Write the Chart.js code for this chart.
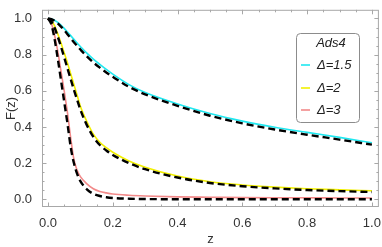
<!DOCTYPE html>
<html>
<head>
<meta charset="utf-8">
<script src="https://cdn.jsdelivr.net/npm/chart.js@4"></script>
<style>
  html, body { margin: 0; padding: 0; background: #fff; }
  #wrap { width: 382px; height: 247px; }
</style>
</head>
<body>
<div id="wrap"><canvas id="chart" width="382" height="247"></canvas></div>
<script>
// sample positions along z
const zValues = [0, 0.01, 0.02, 0.03, 0.04, 0.05, 0.06, 0.07, 0.08, 0.09, 0.1,
  0.12, 0.14, 0.16, 0.18, 0.2, 0.25, 0.3, 0.4, 0.5, 0.6, 0.7, 0.8, 0.9, 1.0];

// solid curves
const f15 = [1, 0.997, 0.99, 0.978, 0.963, 0.945, 0.925, 0.905, 0.885, 0.864, 0.845,
  0.808, 0.775, 0.746, 0.718, 0.692, 0.634, 0.59, 0.527, 0.474, 0.432, 0.398, 0.37, 0.342, 0.312];
const f2 = [1, 0.99, 0.96, 0.915, 0.865, 0.81, 0.755, 0.695, 0.635, 0.575, 0.515,
  0.43, 0.36, 0.315, 0.285, 0.26, 0.212, 0.177, 0.128, 0.097, 0.079, 0.067, 0.058, 0.052, 0.047];
const f3 = [1, 0.975, 0.91, 0.82, 0.71, 0.6, 0.48, 0.34, 0.22, 0.16, 0.125,
  0.085, 0.058, 0.043, 0.035, 0.029, 0.022, 0.018, 0.013, 0.011, 0.009, 0.008, 0.008, 0.007, 0.007];

// dashed black approximations
const g15 = [1, 0.996, 0.987, 0.973, 0.955, 0.935, 0.913, 0.891, 0.869, 0.848, 0.828,
  0.79, 0.757, 0.728, 0.701, 0.677, 0.622, 0.58, 0.517, 0.462, 0.42, 0.386, 0.357, 0.33, 0.302];
const g2 = [1, 0.985, 0.95, 0.9, 0.845, 0.785, 0.725, 0.665, 0.605, 0.55, 0.495,
  0.41, 0.345, 0.3, 0.27, 0.245, 0.2, 0.166, 0.12, 0.09, 0.072, 0.06, 0.051, 0.045, 0.04];
const g3 = [1, 0.97, 0.89, 0.78, 0.66, 0.54, 0.42, 0.29, 0.2, 0.14, 0.1,
  0.055, 0.03, 0.018, 0.011, 0.007, 0.003, 0.001, 0, 0, 0, 0, 0, 0, 0];

const labels = ["\u0394=1.5", "\u0394=2", "\u0394=3"];
const colors = ["#1fe8f0", "#f2f000", "#f28a8a"];
const legendTitle = "Ads4";

const xTicks = [0, 0.2, 0.4, 0.6, 0.8, 1.0];
const yTicks = [0, 0.2, 0.4, 0.6, 0.8, 1.0];

function pts(ys) {
  return zValues.map((z, i) => ({ x: z, y: ys[i] }));
}

function solid(label, ys, color) {
  return {
    label: label,
    data: pts(ys),
    borderColor: color,
    borderWidth: 1.6,
    pointRadius: 0,
    cubicInterpolationMode: "monotone",
    order: 1,
  };
}

function dashed(ys) {
  return {
    label: "",
    data: pts(ys),
    borderColor: "#000",
    borderWidth: 2.4,
    borderDash: [7, 4],
    pointRadius: 0,
    cubicInterpolationMode: "monotone",
    order: 0,
  };
}

// frame with inward major/minor ticks on all four sides
const framePlugin = {
  id: "frame",
  afterDraw(chart) {
    const { ctx, chartArea: a, scales } = chart;
    ctx.save();
    ctx.strokeStyle = "#a8a8a8";
    ctx.lineWidth = 1;
    ctx.strokeRect(a.left + 0.5, a.top + 0.5, a.right - a.left - 1, a.bottom - a.top - 1);
    for (let v = 0; v <= 1.0001; v += 0.05) {
      const major = Math.abs(v / 0.2 - Math.round(v / 0.2)) < 1e-6;
      const len = major ? 4.5 : 2.5;
      const px = Math.round(scales.x.getPixelForValue(v)) + 0.5;
      const py = Math.round(scales.y.getPixelForValue(v)) + 0.5;
      ctx.beginPath();
      ctx.moveTo(px, a.bottom); ctx.lineTo(px, a.bottom - len);
      ctx.moveTo(px, a.top); ctx.lineTo(px, a.top + len);
      ctx.moveTo(a.left, py); ctx.lineTo(a.left + len, py);
      ctx.moveTo(a.right, py); ctx.lineTo(a.right - len, py);
      ctx.stroke();
    }
    ctx.restore();
  },
};

// boxed legend inside the plot, with a title
const legendPlugin = {
  id: "boxLegend",
  afterDraw(chart) {
    const ctx = chart.ctx;
    const bx = 296, by = 33, bw = 63, bh = 89;
    ctx.save();
    ctx.fillStyle = "#fff";
    ctx.strokeStyle = "#8c8c8c";
    ctx.lineWidth = 1;
    ctx.beginPath();
    ctx.roundRect(bx + 0.5, by + 0.5, bw, bh, 4);
    ctx.fill();
    ctx.stroke();
    ctx.font = "italic 13px 'Liberation Sans', Arial, sans-serif";
    ctx.fillStyle = "#222";
    ctx.textBaseline = "middle";
    ctx.textAlign = "center";
    ctx.fillText(legendTitle, bx + 35, by + 10);
    ctx.textAlign = "left";
    const rows = [65, 88, 110];
    labels.forEach((lab, i) => {
      ctx.strokeStyle = colors[i];
      ctx.lineWidth = 1.6;
      ctx.beginPath();
      ctx.moveTo(301, rows[i]);
      ctx.lineTo(310, rows[i]);
      ctx.stroke();
      ctx.fillText(lab, 317, rows[i]);
    });
    ctx.restore();
  },
};

const tickFont = { family: "'Liberation Sans', Arial, sans-serif", size: 13 };

new Chart(document.getElementById("chart"), {
  type: "line",
  data: {
    datasets: [
      dashed(g15), dashed(g2), dashed(g3),
      solid(labels[0], f15, colors[0]),
      solid(labels[1], f2, colors[1]),
      solid(labels[2], f3, colors[2]),
    ],
  },
  options: {
    responsive: false,
    animation: false,
    layout: { padding: { top: 1, right: 3, left: 0, bottom: 0 } },
    plugins: { legend: { display: false }, tooltip: { enabled: false } },
    scales: {
      x: {
        type: "linear",
        min: -0.0185,
        max: 1.0216,
        afterBuildTicks: (s) => { s.ticks = xTicks.map((v) => ({ value: v })); },
        afterFit: (s) => { s.height = 40; },
        grid: { display: false },
        border: { display: false },
        ticks: { font: tickFont, color: "#333", padding: 1, maxRotation: 0,
          callback: (v) => v.toFixed(1) },
        title: { display: true, text: "z", font: tickFont, color: "#333",
          padding: { top: 2, bottom: 0 } },
      },
      y: {
        type: "linear",
        min: -0.043,
        max: 1.048,
        afterBuildTicks: (s) => { s.ticks = yTicks.map((v) => ({ value: v })); },
        afterFit: (s) => { s.width = 42; },
        grid: { display: false },
        border: { display: false },
        ticks: { font: tickFont, color: "#333", padding: 2,
          callback: (v) => v.toFixed(1) },
        title: { display: true, text: "F(z)", font: tickFont, color: "#333",
          padding: { top: 4, bottom: 0 } },
      },
    },
  },
  plugins: [framePlugin, legendPlugin],
});
</script>
</body>
</html>
